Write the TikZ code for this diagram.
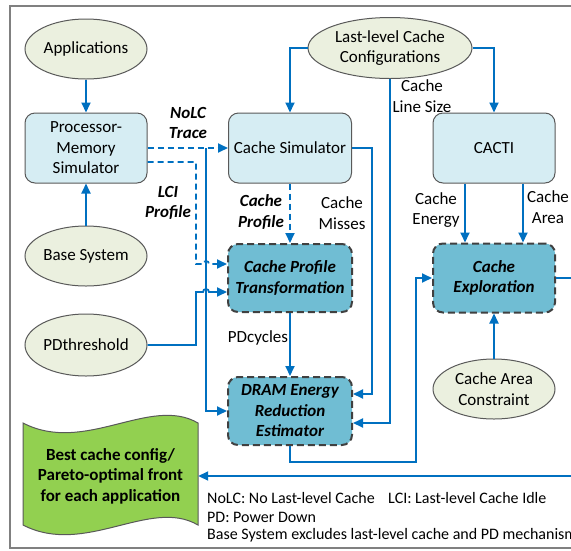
\documentclass[tikz,border=0pt]{standalone}
\usepackage{fontspec}
\setmainfont{Carlito}
\usetikzlibrary{shapes.geometric,arrows.meta,calc}

\definecolor{flowblue}{HTML}{0070C0}
\definecolor{ellfill}{HTML}{EBF0DF}
\definecolor{boxfill}{HTML}{D6EDF3}
\definecolor{procfill}{HTML}{70BDD3}
\definecolor{docgreen}{HTML}{92D050}
\definecolor{edgegray}{HTML}{595959}

\tikzset{
  txt/.style={font=\fontsize{17}{20.5}\selectfont, align=center},
  ell/.style={txt, ellipse, draw=edgegray, fill=ellfill, line width=1pt, inner sep=0pt, minimum width=122, minimum height=60},
  simbox/.style={txt, rectangle, rounded corners=10pt, draw=edgegray, fill=boxfill, line width=1pt, inner sep=2pt, minimum width=122, minimum height=70},
  procbox/.style={simbox, fill=procfill, draw=black!75, line width=2pt, dash pattern=on 7pt off 4pt, font=\fontsize{17}{20.5}\selectfont\bfseries\itshape},
  flow/.style={draw=flowblue, line width=1.8pt, -{Triangle[length=10pt,width=9pt]}},
  dashflow/.style={flow, dash pattern=on 6pt off 4pt},
  lbl/.style={txt, inner sep=0pt},
  blbl/.style={lbl, font=\fontsize{17}{20.5}\selectfont\bfseries\itshape},
  legend/.style={font=\fontsize{16}{18.5}\selectfont, anchor=west, inner sep=0pt},
}

\begin{document}
\begin{tikzpicture}[x=1pt,y=-1pt]
\useasboundingbox (0,0) rectangle (571,550);
\clip (0,0) rectangle (571,550);

% frame
\draw[draw=black!50, line width=1.3pt] (10,6) rectangle (600,548);

% inputs
\node[ell] (app) at (86,49) {Applications};
\node[ell] (base) at (86,256) {Base System};
\node[ell, minimum height=62] (pdt) at (86,345) {PDthreshold};
\node[ell, minimum width=164, minimum height=61] (llc) at (390,48) {Last-level Cache\\Configurations};
\node[ell] (cac) at (494,389) {Cache Area\\Constraint};

% simulators
\node[simbox] (pms) at (86,148) {Processor-\\Memory\\Simulator};
\node[simbox, minimum width=123] (csim) at (290,148) {Cache Simulator};
\node[simbox] (cacti) at (494,148) {CACTI};

% processing steps
\node[procbox, minimum width=124, minimum height=68] (cpt) at (290,278) {Cache Profile\\Transformation};
\node[procbox, minimum width=124, minimum height=68] (dram) at (290,411) {DRAM Energy\\Reduction\\Estimator};
\node[procbox, minimum height=69] (cexp) at (494,278) {Cache\\Exploration};

% output document
\draw[draw=edgegray, line width=1pt, fill=docgreen] (23,423) .. controls (85,455) and (150,395) .. (198,423) -- (198,525) .. controls (150,497) and (85,557) .. (23,525) -- cycle;
\node[txt, font=\fontsize{17}{20.5}\selectfont\bfseries, minimum width=175, inner sep=0pt] (doc) at (110.5,476) {Best cache config/\\Pareto-optimal front\\for each application};

% left column
\draw[flow] (app) -- (pms);
\draw[flow] (base) -- (pms);
\draw[dashflow] (pms) -- (csim);
\coordinate (jn) at (206,148);
\draw[flow] (jn) |- (dram);

\coordinate (lci) at (196,264);
\draw[dashflow] ($(pms.east)+(0,14)$) -| (lci) -- ++(7,0) arc[start angle=180,end angle=360,radius=3] -- (cpt.west |- lci);
\coordinate (pdj) at (196,292);
\draw[flow] (pdt.east) -| (pdj) -- ++(7,0) arc[start angle=180,end angle=360,radius=3] -- (cpt.west |- pdj);

% middle column
\draw[dashflow] (csim) -- (cpt);
\draw[flow] (cpt) -- (dram);
\coordinate (cm) at (372,394);
\draw[flow] (csim.east) -| (cm) -- (dram.east |- cm);

\draw[flow] (llc.west) -| (csim.north);
\draw[flow] (llc.east) -| (cacti.north);
\coordinate (ls) at (390,423);
\draw[flow] (llc.south) -- (ls) -- (dram.east |- ls);

% right column
\draw[flow] ($(cacti.south)+(-29,0)$) -- ($(cexp.north)+(-29,0)$);
\draw[flow] ($(cacti.south)+(29,0)$) -- ($(cexp.north)+(29,0)$);
\draw[flow] (cac) -- (cexp);

\coordinate (de) at (416,462);
\draw[flow] (dram.south) |- (de) |- (cexp.west);
\coordinate (ret) at (590,476);
\draw[flow] (cexp.east) -| (ret) -- (doc.east);

% labels
\node[blbl] (nolc) at (188,123) {NoLC\\Trace};
\node[blbl] (lcip) at (168,203) {LCI\\Profile};
\node[blbl] (cprof) at (261,212) {Cache\\Profile};
\node[lbl] (cmiss) at (342,213) {Cache\\Misses};
\node[lbl] (lsize) at (422,96) {Cache\\Line Size};
\node[lbl] (cen) at (436,210) {Cache\\Energy};
\node[lbl] (car) at (548,207) {Cache\\Area};
\node[lbl] (pdc) at (258,338) {PDcycles};

% legend
\node[legend] (lg1) at (207,498) {NoLC: No Last-level Cache};
\node[legend] (lg2) at (388,498) {LCI: Last-level Cache Idle};
\node[legend] (lg3) at (207,517) {PD: Power Down};
\node[legend] (lg4) at (207,535) {Base System excludes last-level cache and PD mechanism};

\end{tikzpicture}
\end{document}
